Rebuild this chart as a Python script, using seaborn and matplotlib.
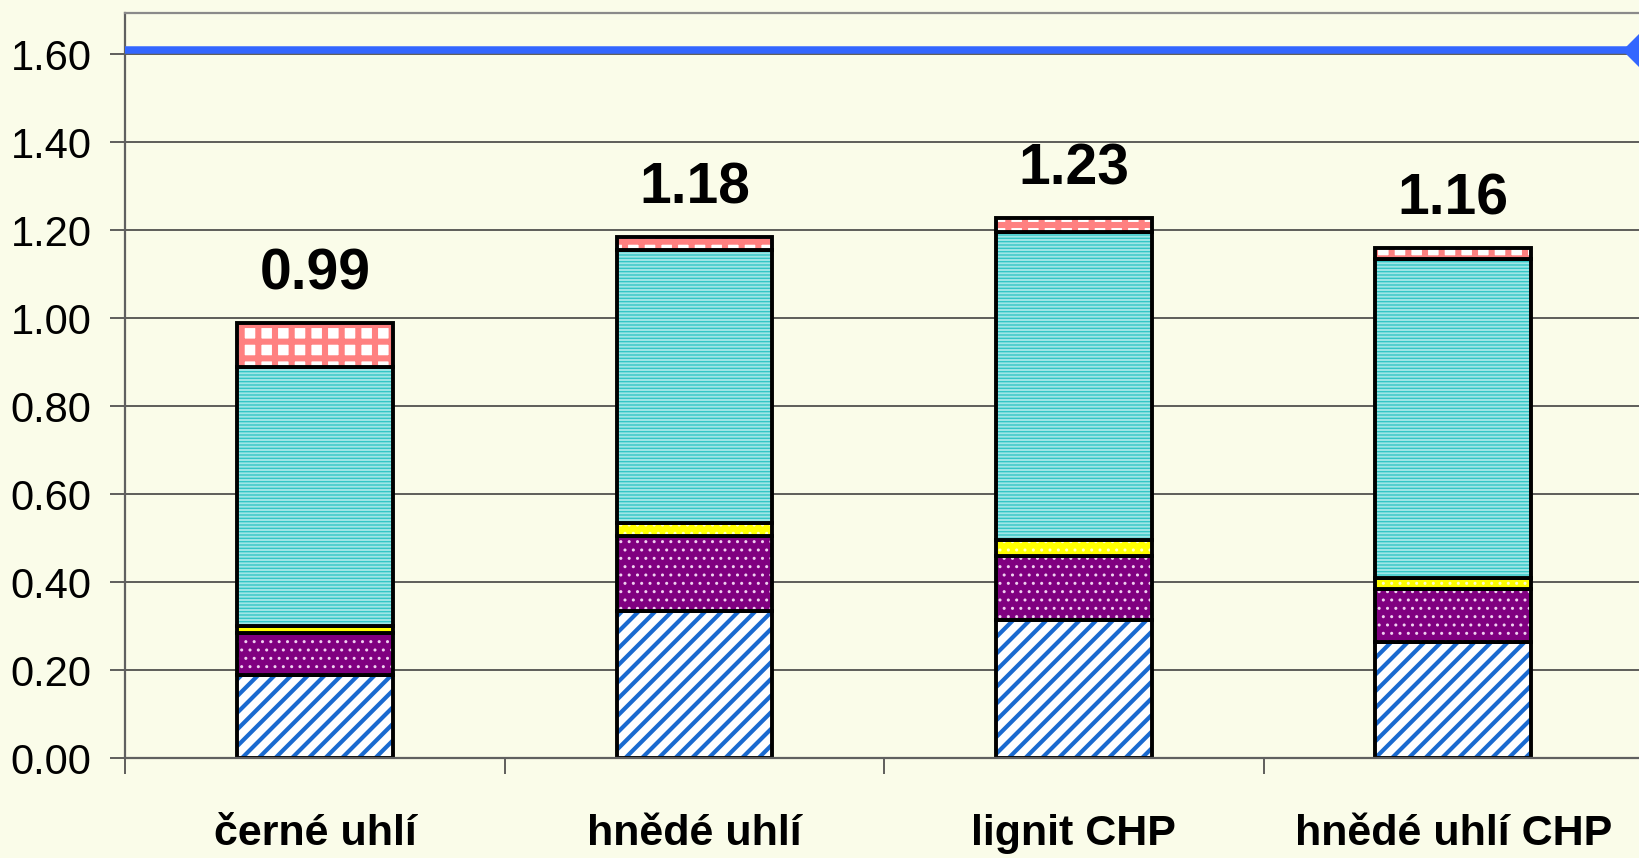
import numpy as np
import seaborn as sns
import matplotlib as mpl
import matplotlib.pyplot as plt

CATEGORIES = ["černé uhlí", "hnědé uhlí", "lignit CHP", "hnědé uhlí CHP"]

# stacked segments, bottom to top
BLUE_STRIPES = [0.19, 0.335, 0.315, 0.265]
PURPLE_DOTS = [0.095, 0.17, 0.145, 0.12]
YELLOW = [0.015, 0.03, 0.037, 0.025]
CYAN_LINES = [0.59, 0.62, 0.70, 0.725]
RED_CHECKS = [0.10, 0.03, 0.03, 0.025]
TOTAL_LABELS = ["0.99", "1.18", "1.23", "1.16"]

LIMIT = 1.61
Y_TICKS = [0.0, 0.2, 0.4, 0.6, 0.8, 1.0, 1.2, 1.4, 1.6]

BG = "#FAFCE9"

# (values, face colour, hatch, hatch colour, hatch linewidth)
SEGMENTS = [
    (BLUE_STRIPES, "#FFFFFF", "//", "#1A6AD0", 3.0),
    (PURPLE_DOTS, "#800080", "..", "#F0D0F0", 1.0),
    (YELLOW, "#FFFF00", "..", "#FFFFC8", 1.0),
    (CYAN_LINES, "#9FE6E6", "-----", "#33C6C6", 1.0),
    (RED_CHECKS, "#FFFFFF", "+", "#FF8080", 4.4),
]


def main():
    sns.set_style("white")
    plt.rcParams["font.family"] = ["Liberation Sans", "DejaVu Sans"]
    plt.rcParams["text.color"] = "black"
    plt.rcParams["xtick.labelcolor"] = "black"
    plt.rcParams["ytick.labelcolor"] = "black"

    fig = plt.figure(figsize=(16.4, 8.58), dpi=100, facecolor=BG)
    ax = fig.add_axes([0.0765, 0.1162, 0.9253, 0.8692], facecolor=BG)

    bottom = np.zeros(len(CATEGORIES))
    for values, face, hatch, hcolor, hlw in SEGMENTS:
        n_before = len(ax.patches)
        with mpl.rc_context({"hatch.linewidth": hlw}):
            sns.barplot(x=CATEGORIES, y=values, bottom=bottom, ax=ax, color=face,
                        saturation=1, edgecolor=hcolor, hatch=hatch, linewidth=0,
                        width=0.41, errorbar=None)
        for p in ax.patches[n_before:]:
            if hasattr(p, "set_hatch_linewidth"):
                p.set_hatch_linewidth(hlw)
        sns.barplot(x=CATEGORIES, y=values, bottom=bottom, ax=ax, fill=False,
                    color="black", edgecolor="black", linewidth=2.8, width=0.41,
                    errorbar=None)
        bottom = bottom + np.array(values)

    for i, label in enumerate(TOTAL_LABELS):
        ax.annotate(label, (i, bottom[i]), xytext=(0, 35), textcoords="offset points",
                    ha="center", va="center", fontsize=41, fontweight="bold",
                    color="black")

    ax.axhline(LIMIT, color="#3366FF", lw=5.4, zorder=4)
    ax.plot([len(CATEGORIES) - 0.5], [LIMIT], marker="D", markersize=20,
            color="#3366FF", clip_on=False, zorder=5)

    ax.set_xlim(-0.5, len(CATEGORIES) - 0.5)
    ax.set_ylim(0, 1.695)
    ax.set_yticks(Y_TICKS)
    ax.set_yticklabels([f"{v:.2f}" for v in Y_TICKS])
    ax.yaxis.grid(True, color="#333333", lw=1.1)
    ax.xaxis.grid(False)
    ax.set_axisbelow(True)

    ax.set_xticks(np.arange(len(CATEGORIES)) - 0.5, minor=True)
    ax.tick_params(axis="x", which="major", length=0, pad=40, labelsize=31)
    ax.tick_params(axis="x", which="minor", length=11.5, width=1.2, color="#444444",
                   direction="out", bottom=True)
    ax.tick_params(axis="y", length=10.5, width=1.2, color="#444444", direction="out",
                   left=True, pad=14, labelsize=30)
    for t in ax.get_xticklabels():
        t.set_fontweight("bold")

    for side in ["left", "bottom", "top"]:
        ax.spines[side].set_visible(True)
        ax.spines[side].set_color("#606060")
        ax.spines[side].set_linewidth(1.6)
    ax.spines["top"].set_color("#8a8a8a")
    ax.spines["right"].set_visible(False)
    ax.set_xlabel("")
    ax.set_ylabel("")

    plt.savefig("out.png", dpi=100, facecolor=BG)


if __name__ == "__main__":
    main()
